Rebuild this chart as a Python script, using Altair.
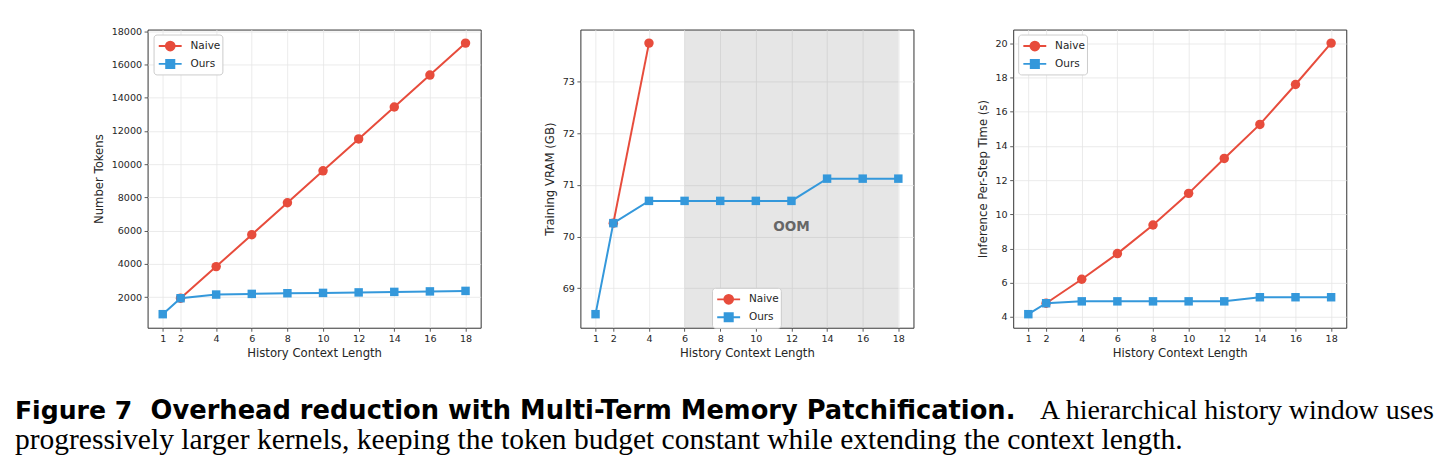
import altair as alt
import pandas as pd

# ---------------- data ----------------
x_vals = [1, 2, 4, 6, 8, 10, 12, 14, 16, 18]

tokens_naive = [None, 1940, 3840, 5760, 7680, 9600, 11520, 13440, 15360, 17280]
tokens_ours = [980, 1940, 2160, 2200, 2240, 2260, 2290, 2320, 2350, 2380]

vram_naive = [None, 70.26, 73.74, None, None, None, None, None, None, None]
vram_ours = [68.50, 70.26, 70.69, 70.69, 70.69, 70.69, 70.69, 71.12, 71.12, 71.12]

time_naive = [None, 4.80, 6.20, 7.70, 9.37, 11.22, 13.26, 15.25, 17.58, 20.00]
time_ours = [4.16, 4.80, 4.91, 4.91, 4.91, 4.91, 4.91, 5.15, 5.15, 5.15]

series_names = ["Naive", "Ours"]
series_colors = ["#e74c3c", "#3498db"]

oom_start = [6]
oom_end = [18]
oom_text = ["OOM"]
oom_text_x = [12]
oom_text_y = [70.18]

x_ticks = [1, 2, 4, 6, 8, 10, 12, 14, 16, 18]
tokens_ticks = [2000, 4000, 6000, 8000, 10000, 12000, 14000, 16000, 18000]
vram_ticks = [69, 70, 71, 72, 73]
time_ticks = [4, 6, 8, 10, 12, 14, 16, 18, 20]

x_title = "History Context Length"
y_titles = ["Number Tokens", "Training VRAM (GB)", "Inference Per-Step Time (s)"]

caption_fig = "Figure 7"
caption_bold = "Overhead reduction with Multi-Term Memory Patchification."
caption_rest1 = "A hierarchical history window uses"
caption_line2 = ("progressively larger kernels, keeping the token budget constant "
                 "while extending the context length.")

# ---------------- style ----------------
FONT = "DejaVu Sans"
TXT = "#262626"
W, H = 334, 299
X_DOMAIN = [0.15, 18.85]

# legend symbols: line + marker (unit path, scaled by sqrt(size)/2)
legend_paths = [
    "M-0.76,0H2.01M0.09,0A0.54,0.54,0,1,0,1.17,0A0.54,0.54,0,1,0,0.09,0Z",
    "M-0.76,0H2.01M0.13,-0.5H1.13V0.5H0.13Z",
]


def long_df(naive, ours):
    rows = []
    for xv, n, o in zip(x_vals, naive, ours):
        if n is not None:
            rows.append({"x": xv, "value": n, "series": "Naive"})
        if o is not None:
            rows.append({"x": xv, "value": o, "series": "Ours"})
    return pd.DataFrame(rows)


def x_axis():
    return alt.Axis(values=x_ticks, title=x_title, format="d",
                    labelFlush=False, labelOverlap=False)


def x_scale():
    return alt.Scale(domain=X_DOMAIN, nice=False, zero=False)


def panel(naive, ours, ticks, ydomain, ytitle, lx, ly, extra=None):
    df = long_df(naive, ours)
    xenc = alt.X("x:Q", scale=x_scale(), axis=x_axis())
    yscale = alt.Scale(domain=ydomain, nice=False, zero=False)
    yaxis = alt.Axis(values=ticks, title=ytitle, format="d",
                     labelFlush=False, labelOverlap=False)
    yenc = alt.Y("value:Q", scale=yscale, axis=yaxis)
    base = alt.Chart(df).encode(x=xenc, y=yenc)
    nv = base.transform_filter(alt.datum.series == "Naive")
    ou = base.transform_filter(alt.datum.series == "Ours")

    leg = alt.Legend(title=None, orient="none", legendX=lx, legendY=ly,
                     fillColor="white", strokeColor="#cccccc", cornerRadius=3,
                     padding=2, symbolSize=275, symbolStrokeWidth=1.8,
                     labelFont=FONT, labelFontSize=10.5, labelColor=TXT,
                     labelOffset=16, rowPadding=0, symbolOpacity=1, zindex=5)
    legend_layer = alt.Chart(df).transform_filter("false").mark_point(
        filled=True, opacity=1).encode(
        x=xenc, y=yenc,
        fill=alt.Fill("series:N", scale=alt.Scale(domain=series_names, range=series_colors), legend=leg),
        stroke=alt.Stroke("series:N", scale=alt.Scale(domain=series_names, range=series_colors), legend=leg),
        shape=alt.Shape("series:N", scale=alt.Scale(domain=series_names, range=legend_paths), legend=leg),
    )
    layers = [legend_layer]
    if extra is not None:
        layers.extend(extra)
    layers += [
        nv.mark_line(color=series_colors[0], strokeWidth=2),
        nv.mark_point(shape="circle", filled=True, size=90, opacity=1,
                      color=series_colors[0]),
        ou.mark_line(color=series_colors[1], strokeWidth=2),
        ou.mark_point(shape="square", filled=True, size=72, opacity=1,
                      color=series_colors[1]),
    ]
    return alt.layer(*layers).properties(width=W, height=H)


# caption texts (layered into first panel, positioned relative to its plot area)
def cap(text, x, y, font, size, weight):
    return alt.Chart(pd.DataFrame({"t": [text]})).mark_text(
        align="left", baseline="alphabetic", font=font, fontSize=size,
        fontWeight=weight, color="black").encode(
        text="t:N", x=alt.value(x), y=alt.value(y))


captions = [
    cap(caption_fig, -133, 391, FONT, 25.2, "bold"),
    cap(caption_bold, 3, 391, FONT, 25.8, "bold"),
    cap(caption_rest1, 895, 391, "Liberation Serif", 28, "normal"),
    cap(caption_line2, -133, 421, "Liberation Serif", 29.6, "normal"),
]

p1 = panel(tokens_naive, tokens_ours, tokens_ticks, [165, 18095], y_titles[0], 6, 5)
p1 = alt.layer(p1, *captions)

band_df = pd.DataFrame({"x0": oom_start, "x1": oom_end})
oom_df = pd.DataFrame({"x": oom_text_x, "value": oom_text_y, "t": oom_text})
band = alt.Chart(band_df).mark_rect(color="gray", opacity=0.2).encode(
    x=alt.X("x0:Q", scale=x_scale(), axis=x_axis()), x2="x1:Q")
oom = alt.Chart(oom_df).mark_text(font=FONT, fontSize=13.6, fontWeight="bold",
                                  color="#666666", align="center",
                                  baseline="middle").encode(
    x=alt.X("x:Q", scale=x_scale(), axis=x_axis()),
    y=alt.Y("value:Q", scale=alt.Scale(domain=[68.238, 74.002], nice=False, zero=False),
            axis=alt.Axis(values=vram_ticks, title=y_titles[1], format="d",
                          labelFlush=False, labelOverlap=False)),
    text="t:N")
p2 = panel(vram_naive, vram_ours, vram_ticks, [68.238, 74.002], y_titles[1],
           132, 259, extra=[band, oom])

p3 = panel(time_naive, time_ours, time_ticks, [3.368, 20.792], y_titles[2], 5, 5)

chart = alt.hconcat(p1, p2, p3, spacing=100, bounds="flush").resolve_scale(
    fill="independent", stroke="independent", shape="independent"
).resolve_legend(
    fill="independent", stroke="independent", shape="independent"
).properties(
    padding={"left": 14, "top": 25, "right": 5, "bottom": 5},
    background="white",
).configure_view(
    stroke="#333333", strokeWidth=1
).configure_axis(
    grid=True, gridColor="#e6e6e6", gridWidth=0.8,
    domain=False, tickColor="#333333", tickSize=3.5, tickWidth=0.8,
    labelFont=FONT, labelFontSize=9.6, labelColor=TXT, labelPadding=2.5,
    titleFont=FONT, titleFontSize=11.7, titleFontWeight="normal",
    titleColor=TXT,
).configure_axisX(
    titlePadding=4.5
).configure_axisY(
    titlePadding=6.5
)

chart.save("out.html", embed_options={"renderer": "svg", "actions": False})
